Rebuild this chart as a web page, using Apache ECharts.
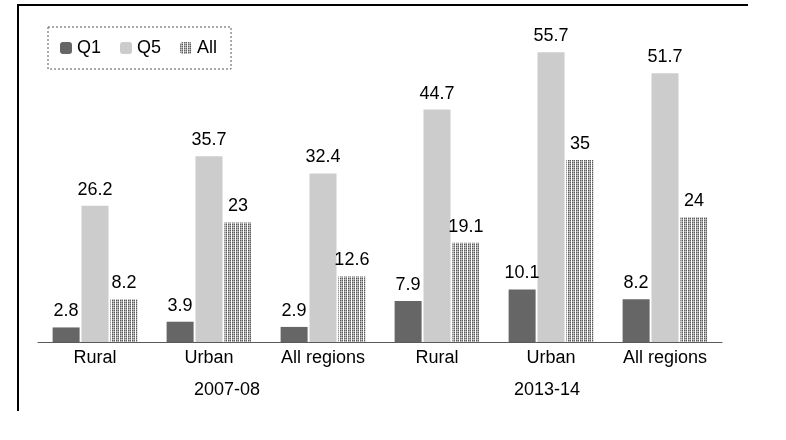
<!DOCTYPE html>
<html>
<head>
<meta charset="utf-8">
<script src="https://cdn.jsdelivr.net/npm/echarts@6/dist/echarts.min.js"></script>
<style>
  html, body { margin: 0; padding: 0; background: #fff; }
  #chart { width: 786px; height: 440px; }
</style>
</head>
<body>
<div id="chart"></div>
<script>
var categories = ['Rural', 'Urban', 'All regions', 'Rural', 'Urban', 'All regions'];
var periods = ['2007-08', '2013-14'];
var q1 = [2.8, 3.9, 2.9, 7.9, 10.1, 8.2];
var q5 = [26.2, 35.7, 32.4, 44.7, 55.7, 51.7];
var all = [8.2, 23, 12.6, 19.1, 35, 24];

// dotted fill for the "All" bars
function dotPattern() {
    var c = document.createElement('canvas');
    c.width = 4;
    c.height = 2;
    var ctx = c.getContext('2d');
    ctx.fillStyle = '#ffffff';
    ctx.fillRect(0, 0, 4, 2);
    ctx.fillStyle = '#595959';
    ctx.fillRect(0, 0, 1, 1);
    ctx.fillRect(2, 0, 1, 1);
    ctx.fillStyle = '#a6a6a6';
    ctx.fillRect(1, 0, 1, 1);
    ctx.fillRect(0, 1, 1, 1);
    ctx.fillRect(2, 1, 1, 1);
    ctx.fillStyle = '#d0d0d0';
    ctx.fillRect(1, 1, 1, 1);
    return c;
}

var font = 'Liberation Sans, Arial, sans-serif';
var myChart = echarts.init(document.getElementById('chart'));

function labelStyle() {
    return {
        show: true,
        position: 'top',
        distance: 7,
        color: '#000',
        fontSize: 18,
        fontFamily: font
    };
}

var option = {
    backgroundColor: '#fff',
    animation: false,
    textStyle: { fontFamily: font },
    graphic: [{
        type: 'polyline',
        shape: { points: [[18, 411], [18, 5], [748, 5]] },
        style: { stroke: '#000', lineWidth: 2, fill: null },
        silent: true
    }],
    legend: {
        left: 48,
        top: 27,
        padding: [12, 14, 12, 12],
        itemWidth: 12,
        itemHeight: 12,
        itemGap: 19,
        borderColor: '#555',
        borderWidth: 1,
        borderType: [2, 2],
        textStyle: { color: '#000', fontSize: 18, fontFamily: font },
        data: ['Q1', 'Q5', 'All']
    },
    grid: { left: 38, right: 64, top: 30, bottom: 98 },
    xAxis: [{
        type: 'category',
        data: categories,
        axisLine: { lineStyle: { color: '#595959', width: 1 } },
        axisTick: { show: false },
        axisLabel: { color: '#000', fontSize: 18, fontFamily: font, margin: 7, interval: 0 }
    }, {
        type: 'category',
        position: 'bottom',
        data: periods,
        axisLine: { show: false },
        axisTick: { show: false },
        axisLabel: {
            margin: 39,
            interval: 0,
            formatter: function (v, i) { return i === 0 ? '{a|' + v + '}' : '{b|' + v + '}'; },
            rich: {
                a: { color: '#000', fontSize: 18, lineHeight: 18, fontFamily: font, padding: [0, 0, 0, 36] },
                b: { color: '#000', fontSize: 18, lineHeight: 18, fontFamily: font, padding: [0, 8, 0, 0] }
            }
        }
    }],
    yAxis: {
        type: 'value',
        min: 0,
        max: 60,
        show: false
    },
    series: [{
        name: 'Q1',
        type: 'bar',
        data: q1,
        barWidth: 27,
        barGap: '7%',
        itemStyle: { color: '#666666' },
        label: labelStyle()
    }, {
        name: 'Q5',
        type: 'bar',
        data: q5,
        barWidth: 27,
        barGap: '7%',
        itemStyle: { color: '#cccccc' },
        label: labelStyle()
    }, {
        name: 'All',
        type: 'bar',
        data: all,
        barWidth: 27,
        barGap: '7%',
        itemStyle: { color: { image: dotPattern(), repeat: 'repeat' } },
        label: labelStyle()
    }]
};

myChart.setOption(option);
</script>
</body>
</html>
